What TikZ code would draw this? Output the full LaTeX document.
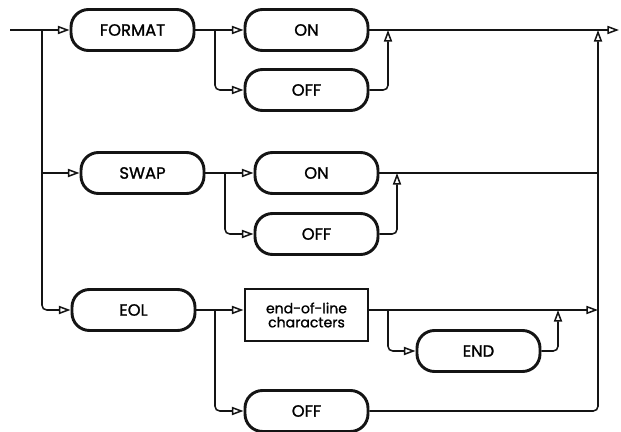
\documentclass[tikz,border=0pt]{standalone}
\usepackage{fontspec}
\usepackage{xcolor}
\usepackage{tikz}
\usetikzlibrary{arrows.meta,positioning,calc}
\newfontfamily\diagfont{Poppins}[FakeBold=1.2]
\definecolor{inkblack}{RGB}{20,20,20}
\tikzset{
  kwnode/.style ={draw=inkblack, line width=2.5pt, rounded corners=15pt,
                  minimum width=3.69cm, minimum height=1.23cm,
                  font=\diagfont\fontsize{14}{15}\selectfont, inner sep=2pt},
  parnode/.style={draw=inkblack, line width=2.5pt, align=center,
                  minimum width=3.69cm, minimum height=1.56cm,
                  font=\diagfont\fontsize{12}{15}\selectfont, inner sep=2pt},
  ln/.style     ={draw=inkblack, line width=1.3pt},
  arr/.style    ={ln, -{Triangle[open, length=10pt, width=7pt]}},
  %% branch lines bend softly
  barr/.style   ={arr, rounded corners=4pt},
}
\begin{document}
\begin{tikzpicture}[x=0.03cm, y=-0.03cm]
  \useasboundingbox (0,0) rectangle (621,432);
  % FORMAT row
  \node[kwnode] (fmt)  at (132.5,30) {FORMAT};
  \node[kwnode] (fon)  at (306.5,30) {ON};
  \node[kwnode] (foff) at (306.5,90) {OFF};
  % SWAP row
  \node[kwnode] (swp)  at (142.5,173) {SWAP};
  \node[kwnode] (son)  at (316.5,173) {ON};
  \node[kwnode] (soff) at (316.5,234) {OFF};
  % EOL row
  \node[kwnode]  (eol)  at (133.5,310) {EOL};
  \node[parnode] (eolc) at (306.5,315) {end-of-line\\[-3pt]characters};
  \node[kwnode]  (endn) at (478.5,351) {END};
  \node[kwnode]  (eoff) at (306.5,411) {OFF};
  \coordinate (start) at (10,30);
  \coordinate (lx)    at (42,30);
  \coordinate (fb)    at (215,30);
  \coordinate (fj)    at (388,30);
  \coordinate (sb)    at (225,173);
  \coordinate (sj)    at (397,173);
  \coordinate (eb)    at (215,310);
  \coordinate (cb)    at (388,310);
  \coordinate (cj)    at (558,310);
  \coordinate (rx)    at (598,30);
  \coordinate (out)   at (619,30);
  \draw[arr](start)--(fmt.west);
  \draw[arr](lx|-swp)--(swp.west);
  \draw[ln](lx)--(lx|-swp);
  \draw[barr](lx|-swp)|-(eol.west);
  \draw[arr](fmt.east)--(fon.west);
  \draw[barr](fb)|-(foff.west);
  \draw[arr](fon.east)--(out);
  \draw[barr](foff.east)-|(fj);
  \draw[arr](swp.east)--(son.west);
  \draw[barr](sb)|-(soff.west);
  \draw[ln](son.east)--(rx|-son);
  \draw[barr](soff.east)-|(sj);
  \draw[arr](eol.east)--(eol.east-|eolc.west);
  \draw[barr](eb)|-(eoff.west);
  \draw[arr](eol-|eolc.east)--(rx|-eol);
  \draw[barr](cb)|-(endn.west);
  \draw[barr](endn.east)-|(cj);
  \draw[barr](eoff.east)-|(rx);
\end{tikzpicture}
\end{document}
